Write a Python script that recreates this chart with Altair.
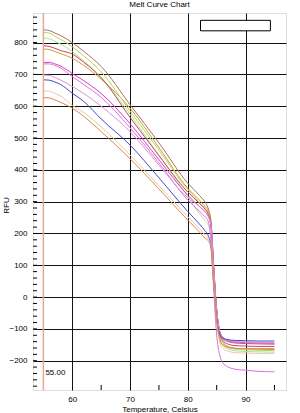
import altair as alt
import pandas as pd

temps = [55, 56, 57, 58, 60, 62, 65, 70, 75, 80, 82, 83, 83.5, 84, 84.5, 85, 85.5, 86, 87, 88, 90, 92, 95]

s_brown = [840, 838, 830, 822, 800, 772, 725, 605, 485, 358, 320, 298, 280, 240, 90, -40, -105, -125, -137, -141, -143, -144, -145]
s_olive = [780, 778, 772, 765, 751, 728, 685, 594, 470, 342, 305, 285, 270, 235, 85, -45, -115, -140, -155, -160, -163, -164, -165]
s_ygreen = [832, 830, 820, 810, 787, 758, 708, 585, 462, 338, 298, 278, 263, 225, 80, -50, -120, -145, -158, -163, -166, -167, -168]
s_lgreen = [814, 812, 804, 795, 772, 742, 690, 575, 445, 316, 262, 240, 228, 200, 70, -55, -125, -150, -163, -168, -171, -172, -173]
s_red = [790, 788, 782, 775, 764, 738, 690, 565, 445, 330, 295, 276, 262, 230, 90, -40, -110, -135, -148, -152, -154, -155, -155]
s_mag1 = [737, 738, 733, 726, 703, 680, 640, 545, 432, 320, 285, 268, 255, 225, 80, -45, -110, -130, -140, -144, -146, -147, -148]
s_mag2 = [733, 733, 728, 720, 693, 668, 628, 532, 422, 305, 270, 252, 240, 180, 20, -120, -180, -205, -220, -226, -230, -233, -235]
s_pink = [698, 697, 690, 682, 662, 640, 600, 520, 415, 312, 285, 266, 255, 228, 85, -40, -105, -125, -135, -139, -141, -142, -143]
s_blue = [683, 682, 676, 668, 641, 615, 560, 478, 375, 269, 230, 208, 195, 160, 40, -70, -115, -128, -134, -136, -137, -138, -138]
s_tan = [648, 647, 640, 632, 603, 580, 535, 447, 350, 253, 215, 195, 185, 160, 40, -80, -140, -160, -170, -174, -176, -177, -177]
s_orange = [627, 626, 620, 612, 594, 568, 520, 435, 340, 242, 205, 185, 178, 155, 35, -75, -130, -150, -158, -161, -162, -162, -162]

names = ["brown", "olive", "ygreen", "lgreen", "red", "mag1", "mag2", "pink", "blue", "tan", "orange"]
values = [s_brown, s_olive, s_ygreen, s_lgreen, s_red, s_mag1, s_mag2, s_pink, s_blue, s_tan, s_orange]
colors = ["#a8705e", "#c8a040", "#b8d850", "#a8e4a8", "#d04058", "#d040c0", "#e070e0", "#e090d8", "#4848c0", "#e8c8a8", "#d88850"]

y_minor = list(range(-280, 881, 20))
x_minor = [65, 75, 85, 95]
x_major = [60, 70, 80, 90]
y_major = [-200, -100, 0, 100, 200, 300, 400, 500, 600, 700, 800]

rows = []
for n, vals in zip(names, values):
    for t, v in zip(temps, vals):
        rows.append({"series": n, "temp": t, "rfu": v})
df = pd.DataFrame(rows)

FONT = "Liberation Sans"
xs = alt.Scale(domain=[53.2, 97.0], nice=False, zero=False)
ys = alt.Scale(domain=[-292, 893], nice=False, zero=False)

x_axis = alt.Axis(values=x_major, grid=True, gridColor="#111", gridWidth=1,
                  ticks=False, domain=False, labelPadding=5, labelOverlap=False,
                  labelFontSize=8, labelFont=FONT, labelColor="#000",
                  title="Temperature, Celsius", titleFontSize=8, titleFont=FONT,
                  titleFontWeight="normal", titleColor="#000", titlePadding=2)
y_axis = alt.Axis(values=y_major, grid=True, gridColor="#111", gridWidth=1,
                  ticks=False, domain=False, labelPadding=6, labelOverlap=False,
                  labelFontSize=8, labelFont=FONT, labelColor="#000",
                  title="RFU", titleFontSize=8, titleFont=FONT,
                  titleFontWeight="normal", titleColor="#000",
                  titleX=-27, titleY=192, titleAngle=-90,
                  titleAlign="center", titleBaseline="middle")

lines = alt.Chart(df).mark_line(strokeWidth=1, interpolate="monotone").encode(
    x=alt.X("temp:Q", scale=xs, axis=x_axis),
    y=alt.Y("rfu:Q", scale=ys, axis=y_axis),
    color=alt.Color("series:N", scale=alt.Scale(domain=names, range=colors), legend=None),
    detail="series:N",
)

vline = alt.Chart(pd.DataFrame({"t": [55]})).mark_rule(color="#e8a890", strokeWidth=1.5).encode(
    x=alt.X("t:Q", scale=xs, axis=x_axis)
)

label = alt.Chart(pd.DataFrame({"t": [55], "v": [-240], "txt": ["55.00"]})).mark_text(
    align="left", baseline="middle", dx=2, fontSize=8, font=FONT, color="#000"
).encode(x=alt.X("t:Q", scale=xs, axis=x_axis), y=alt.Y("v:Q", scale=ys, axis=y_axis), text="txt:N")

ytick = alt.Chart(pd.DataFrame({"v": y_minor})).mark_rule(color="#000", strokeWidth=1).encode(
    y=alt.Y("v:Q", scale=ys, axis=y_axis), x=alt.value(0), x2=alt.value(4)
)
xtick = alt.Chart(pd.DataFrame({"t": x_minor})).mark_rule(color="#000", strokeWidth=1).encode(
    x=alt.X("t:Q", scale=xs, axis=x_axis), y=alt.value(377), y2=alt.value(372)
)

box = alt.Chart(pd.DataFrame({"x1": [82.2], "x2": [94.3], "y1": [870], "y2": [837]})).mark_rect(
    fill="#fff", stroke="#000", strokeWidth=1
).encode(x=alt.X("x1:Q", scale=xs, axis=x_axis), x2="x2:Q",
         y=alt.Y("y1:Q", scale=ys, axis=y_axis), y2="y2:Q")

chart = alt.layer(lines, vline, label, ytick, xtick, box).properties(
    width=253, height=377,
    title=alt.TitleParams("Melt Curve Chart", fontSize=8, font=FONT, fontWeight="normal",
                          color="#000", anchor="middle", offset=3),
    padding={"left": 33, "top": 13, "right": 14, "bottom": 23},
    autosize=alt.AutoSizeParams(type="none"),
).configure_view(stroke="#000", strokeWidth=1).configure(background="#fff")

chart.save("out.html", embed_options={"renderer": "svg", "actions": False})
